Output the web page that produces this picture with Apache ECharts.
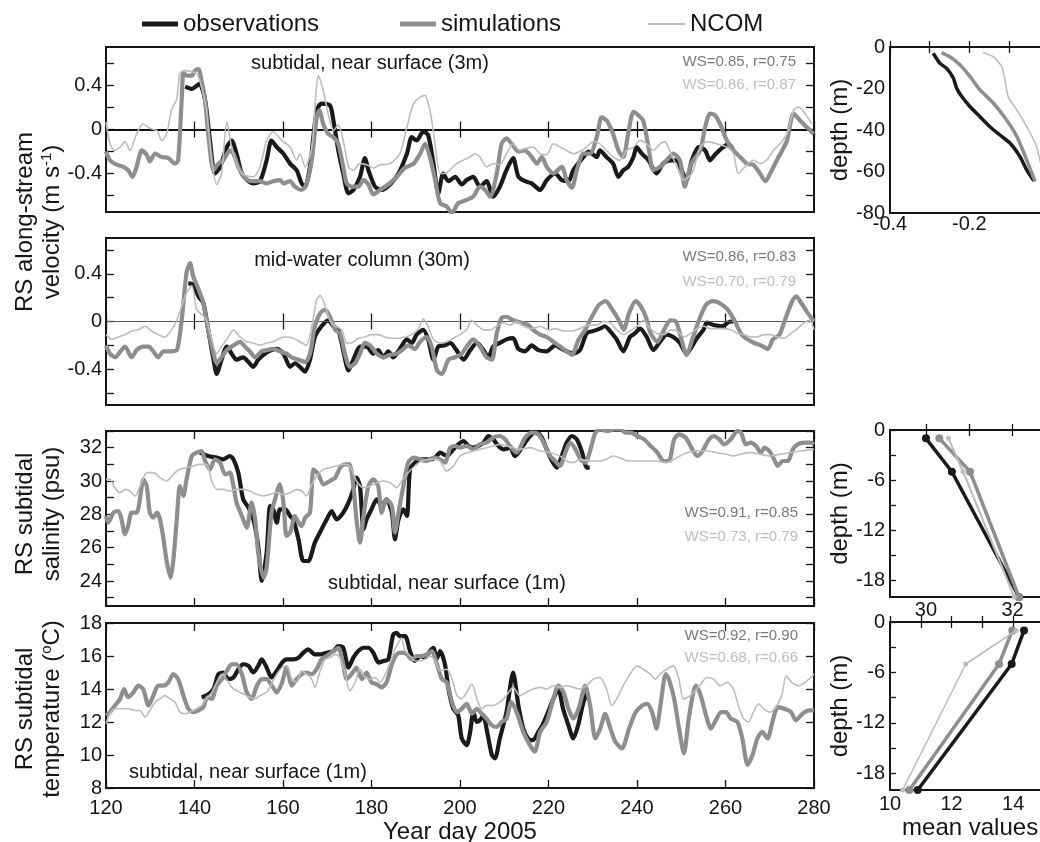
<!DOCTYPE html>
<html><head><meta charset="utf-8">
<script src="https://cdn.jsdelivr.net/npm/echarts@6/dist/echarts.min.js"></script>
<style>html,body{margin:0;padding:0;background:#fff}#c{width:1040px;height:842px}</style>
</head><body><div id="c"></div>
<script>
const FONT = 'Liberation Sans';
const C_OBS = '#1a1a1a', C_SIM = '#8e8e8e', C_NCOM = '#bdbdbd';

// ---------- data: [year day, value] ----------
const velSurfObs = [[137.9,0.39],[139.4,0.37],[141.1,0.415],[142.4,0.265],[143.5,-0.10],[144.6,-0.40],[145.8,-0.34],[147.3,-0.16],[148.4,-0.10],[149.5,-0.22],[150.7,-0.40],[152.2,-0.47],[153.3,-0.49],[154.8,-0.47],[156.3,-0.28],[157.4,-0.10],[158.6,-0.16],[160.1,-0.22],[161.6,-0.31],[163.1,-0.37],[164.2,-0.49],[165.0,-0.52],[166.1,-0.34],[167.6,0.17],[168.7,0.235],[170.6,0.22],[171.4,0.08],[172.5,-0.19],[173.6,-0.40],[174.8,-0.58],[175.9,-0.55],[177.4,-0.43],[178.5,-0.26],[179.3,-0.37],[180.8,-0.52],[182.3,-0.55],[184.2,-0.50],[186.1,-0.40],[188.0,-0.22],[189.1,-0.07],[190.2,-0.10],[191.7,-0.02],[192.8,-0.05],[194.0,-0.31],[195.1,-0.58],[196.2,-0.40],[197.4,-0.47],[198.9,-0.43],[200.4,-0.50],[201.5,-0.46],[203.0,-0.43],[204.5,-0.52],[206.0,-0.47],[207.5,-0.61],[209.0,-0.52],[210.5,-0.37],[212.0,-0.26],[213.2,-0.43],[214.7,-0.47],[216.2,-0.49],[218.1,-0.55],[219.6,-0.46],[221.5,-0.40],[223.0,-0.46],[224.5,-0.47],[225.6,-0.37],[227.9,-0.25],[229.0,-0.20],[230.9,-0.25],[231.6,-0.19],[233.1,-0.25],[234.6,-0.31],[235.8,-0.43],[236.9,-0.37],[238.0,-0.34],[239.2,-0.25],[239.9,-0.16],[241.1,-0.22],[242.6,-0.28],[244.4,-0.40],[245.9,-0.31],[247.5,-0.28],[249.0,-0.28],[250.1,-0.37],[251.2,-0.46],[252.4,-0.28],[253.9,-0.16],[255.4,-0.19],[256.5,-0.28],[257.6,-0.23],[259.2,-0.17],[260.7,-0.13],[261.8,-0.19]];
const velSurfSim = [[120,-0.20],[120.9,-0.28],[122.4,-0.32],[123.9,-0.34],[125.0,-0.37],[126.0,-0.43],[126.9,-0.34],[128.1,-0.19],[129.2,-0.23],[129.9,-0.29],[131.1,-0.22],[132.6,-0.25],[134.1,-0.26],[135.6,-0.31],[136.3,-0.28],[137.1,0.265],[137.5,0.52],[138.2,0.49],[139.4,0.49],[140.1,0.535],[140.9,0.55],[141.6,0.445],[142.4,0.265],[143.1,-0.04],[144.3,-0.37],[145.4,-0.31],[146.5,-0.28],[148.0,-0.19],[148.8,-0.22],[149.9,-0.34],[151.4,-0.44],[152.9,-0.47],[154.8,-0.47],[156.3,-0.49],[157.8,-0.47],[159.3,-0.46],[160.1,-0.49],[161.6,-0.47],[162.7,-0.52],[164.2,-0.55],[165.3,-0.50],[166.5,-0.28],[167.6,0.11],[168.2,0.175],[169.1,0.05],[170.2,-0.04],[171.4,-0.07],[172.5,-0.13],[173.6,-0.34],[174.4,-0.49],[175.5,-0.52],[177.0,-0.52],[178.2,-0.46],[179.3,-0.50],[180.4,-0.59],[181.9,-0.55],[183.8,-0.50],[185.7,-0.43],[187.5,-0.35],[189.5,-0.31],[191.0,-0.22],[192.1,-0.13],[193.2,-0.25],[194.4,-0.46],[195.5,-0.67],[197.0,-0.70],[198.1,-0.76],[199.6,-0.67],[201.5,-0.64],[203.0,-0.61],[204.5,-0.52],[205.7,-0.55],[206.8,-0.61],[208.3,-0.40],[209.4,-0.13],[210.5,-0.08],[211.7,-0.13],[213.2,-0.20],[214.7,-0.19],[216.2,-0.25],[217.4,-0.31],[218.5,-0.25],[219.6,-0.34],[221.1,-0.40],[223.0,-0.34],[224.1,-0.46],[225.3,-0.53],[226.4,-0.37],[227.9,-0.22],[229.4,-0.22],[230.9,-0.07],[232.0,0.11],[233.2,0.08],[234.6,-0.04],[235.8,-0.19],[236.9,-0.25],[238.0,-0.04],[239.2,0.16],[240.3,0.13],[241.4,0.08],[242.6,-0.16],[243.7,-0.37],[245.2,-0.34],[246.7,-0.28],[248.2,-0.22],[249.7,-0.28],[250.8,-0.52],[252.0,-0.34],[252.7,-0.28],[254.3,-0.19],[255.4,0.02],[256.5,0.145],[257.6,0.13],[258.8,0.05],[260.3,-0.10],[261.8,-0.19],[263.3,-0.25],[264.8,-0.31],[266.3,-0.32],[267.8,-0.40],[269.0,-0.47],[270.1,-0.40],[271.6,-0.28],[272.7,-0.20],[273.9,-0.10],[275.4,0.145],[276.9,0.08],[278.4,0.02],[279.9,-0.04]];
const velSurfNcom = [[120,0.07],[120.9,-0.13],[122.0,-0.19],[123.2,-0.16],[124.3,-0.11],[125.4,-0.19],[126.9,-0.04],[128.4,0.05],[129.9,0.01],[131.5,-0.01],[132.6,-0.10],[133.7,-0.04],[134.8,0.175],[136.0,0.28],[136.7,0.51],[137.9,0.535],[140.5,0.505],[141.6,0.385],[142.7,0.175],[143.9,-0.28],[145.0,-0.50],[146.1,-0.40],[147.3,0.07],[148.4,-0.16],[149.5,-0.31],[151.0,-0.41],[153.3,-0.43],[154.8,-0.34],[156.3,-0.10],[157.8,-0.02],[159.7,-0.10],[161.6,-0.16],[163.1,-0.28],[163.8,-0.22],[165.0,-0.34],[166.5,-0.16],[168.0,0.49],[169.1,0.355],[170.2,0.145],[171.4,-0.01],[172.5,0.04],[173.6,-0.10],[174.8,-0.34],[175.9,-0.37],[177.4,-0.31],[178.9,-0.32],[180.4,-0.35],[181.9,-0.32],[184.2,-0.31],[186.4,-0.22],[188.0,0.02],[189.5,0.235],[191.0,0.295],[192.1,0.31],[193.2,0.175],[194.0,-0.02],[195.5,-0.40],[196.6,-0.40],[197.7,-0.37],[199.2,-0.31],[200.7,-0.28],[202.2,-0.25],[203.4,-0.22],[204.5,-0.25],[206.0,-0.34],[207.5,-0.31],[209.0,-0.32],[210.5,-0.22],[212.0,-0.13],[213.5,-0.19],[215.0,-0.17],[216.5,-0.16],[218.1,-0.22],[219.6,-0.23],[221.1,-0.13],[222.6,-0.16],[224.1,-0.19],[225.6,-0.22],[227.1,-0.20],[228.6,-0.16],[230.1,-0.11],[231.6,-0.13],[233.1,-0.19],[234.6,-0.25],[236.1,-0.28],[237.7,-0.19],[239.2,-0.16],[240.7,-0.10],[242.2,-0.13],[243.7,-0.19],[245.2,-0.13],[246.3,-0.11],[247.5,-0.20],[249.0,-0.34],[250.5,-0.46],[252.4,-0.40],[254.3,-0.16],[255.8,-0.11],[258.0,-0.13],[260.3,-0.16],[261.8,-0.22],[262.9,-0.40],[264.4,-0.34],[266.3,-0.28],[267.8,-0.31],[269.3,-0.28],[270.8,-0.19],[272.3,-0.13],[273.9,-0.04],[275.4,0.175],[276.5,0.205],[278.0,0.145],[279.5,0.05]];

const velMidObs = [[138.6,0.32],[139.7,0.31],[140.9,0.21],[142.0,0.155],[143.1,-0.07],[144.3,-0.32],[145.0,-0.44],[146.1,-0.32],[147.3,-0.21],[148.4,-0.27],[149.5,-0.32],[151.0,-0.30],[152.2,-0.34],[153.3,-0.38],[154.4,-0.32],[155.9,-0.27],[157.4,-0.24],[158.6,-0.23],[160.1,-0.27],[161.6,-0.38],[162.7,-0.35],[163.8,-0.38],[165.0,-0.42],[166.1,-0.32],[167.2,-0.13],[168.7,-0.04],[170.2,0.01],[171.4,-0.04],[172.5,-0.07],[173.6,-0.24],[174.8,-0.41],[175.9,-0.32],[177.4,-0.21],[178.9,-0.21],[180.4,-0.27],[181.5,-0.24],[182.7,-0.30],[183.8,-0.25],[184.9,-0.30],[186.4,-0.23],[188.0,-0.15],[189.1,-0.18],[190.2,-0.11],[191.7,-0.07],[192.8,-0.15],[194.0,-0.32],[195.1,-0.21],[196.6,-0.20],[197.8,-0.18],[199.2,-0.24],[200.8,-0.32],[202.3,-0.24],[203.8,-0.18],[205.3,-0.24],[206.4,-0.30],[207.5,-0.21],[209.0,-0.18],[210.5,-0.15],[212.0,-0.14],[213.2,-0.23],[214.7,-0.25],[216.2,-0.20],[217.7,-0.24],[219.6,-0.25],[221.5,-0.20],[223.0,-0.23],[224.1,-0.25],[225.6,-0.27],[227.1,-0.24],[228.6,-0.10],[230.1,-0.08],[231.6,-0.06],[232.7,-0.04],[233.9,-0.08],[235.4,-0.15],[236.9,-0.25],[238.4,-0.13],[239.5,-0.10],[240.7,-0.06],[242.2,-0.13],[243.7,-0.24],[245.2,-0.17],[246.7,-0.11],[248.2,-0.13],[249.7,-0.18],[251.2,-0.27],[252.4,-0.21],[253.5,-0.14],[255.0,-0.07],[255.8,-0.01],[257.3,-0.03],[259.2,-0.04],[261.1,0.0],[261.8,0.0]];
const velMidSim = [[120,-0.20],[120.9,-0.27],[122.0,-0.30],[123.5,-0.24],[124.3,-0.21],[125.8,-0.30],[126.9,-0.24],[128.4,-0.21],[129.6,-0.21],[130.7,-0.25],[131.8,-0.30],[133.0,-0.25],[134.5,-0.25],[136.0,-0.24],[137.1,0.01],[138.2,0.41],[139.0,0.49],[139.7,0.38],[140.9,0.27],[142.0,0.155],[143.1,-0.07],[144.3,-0.27],[145.0,-0.35],[146.1,-0.30],[147.3,-0.24],[148.8,-0.20],[150.3,-0.17],[151.4,-0.21],[152.5,-0.25],[153.7,-0.30],[155.2,-0.25],[156.3,-0.24],[157.8,-0.23],[159.3,-0.25],[160.8,-0.27],[161.9,-0.30],[163.5,-0.32],[165.0,-0.34],[166.1,-0.27],[167.2,-0.04],[168.4,0.07],[169.5,0.10],[170.6,0.04],[171.8,-0.07],[172.9,-0.10],[174.0,-0.27],[175.1,-0.38],[176.3,-0.35],[177.4,-0.27],[178.5,-0.18],[179.7,-0.20],[181.2,-0.27],[182.7,-0.30],[184.2,-0.28],[185.7,-0.27],[187.2,-0.23],[188.3,-0.20],[189.8,-0.23],[191.0,-0.17],[192.5,-0.13],[193.6,-0.21],[194.8,-0.41],[195.9,-0.44],[197.4,-0.32],[198.9,-0.30],[200.4,-0.27],[201.5,-0.21],[203.0,-0.15],[204.5,-0.21],[206.0,-0.30],[207.2,-0.32],[208.3,-0.10],[209.4,0.03],[210.5,0.04],[212.0,0.01],[213.9,-0.01],[215.4,-0.03],[216.5,-0.07],[218.1,-0.11],[219.6,-0.13],[221.1,-0.17],[222.6,-0.21],[224.1,-0.25],[225.3,-0.28],[226.8,-0.15],[228.3,-0.07],[229.8,0.04],[231.4,0.14],[232.9,0.17],[234.4,0.10],[235.9,0.01],[237.0,-0.07],[238.2,0.07],[239.7,0.17],[240.8,0.13],[242.0,0.04],[243.1,-0.10],[244.6,-0.17],[246.1,-0.07],[247.6,0.01],[248.8,0.0],[249.9,-0.13],[251.2,-0.28],[252.5,-0.15],[254.0,0.01],[255.6,0.14],[257.1,0.17],[258.6,0.155],[260.5,0.10],[262.0,0.01],[263.5,-0.10],[265.0,-0.15],[266.5,-0.18],[268.0,-0.20],[269.6,-0.23],[270.7,-0.15],[272.2,-0.11],[273.7,0.04],[275.2,0.18],[276.0,0.21],[277.1,0.155],[278.6,0.07],[280.0,0.0]];
const velMidNcom = [[120,-0.11],[121.3,-0.15],[122.8,-0.13],[124.3,-0.11],[125.8,-0.08],[127.3,-0.07],[128.8,-0.04],[130.3,-0.08],[131.8,-0.11],[133.3,-0.13],[134.8,-0.07],[136.0,0.01],[137.1,0.13],[138.2,0.24],[139.4,0.30],[140.5,0.10],[141.6,0.06],[142.7,0.01],[143.9,-0.15],[145.0,-0.27],[146.1,-0.21],[147.3,-0.15],[148.8,-0.07],[150.3,-0.13],[151.8,-0.17],[153.3,-0.18],[154.8,-0.20],[156.3,-0.18],[157.8,-0.17],[159.3,-0.14],[160.8,-0.13],[162.3,-0.14],[163.8,-0.17],[165.3,-0.20],[166.5,-0.04],[167.6,0.18],[168.4,0.22],[169.5,0.13],[170.6,0.01],[171.8,-0.04],[173.3,-0.07],[174.4,-0.18],[175.5,-0.18],[177.0,-0.14],[178.5,-0.13],[180.0,-0.11],[181.5,-0.11],[183.0,-0.13],[184.5,-0.14],[186.1,-0.14],[187.6,-0.13],[189.1,-0.11],[190.6,-0.06],[191.7,0.02],[192.8,-0.04],[194.0,-0.15],[195.5,-0.18],[197.0,-0.17],[198.5,-0.14],[200.0,-0.11],[201.5,-0.07],[202.6,0.01],[203.8,-0.03],[205.3,-0.07],[206.8,-0.07],[208.3,-0.04],[209.8,-0.01],[211.3,-0.03],[212.8,0.0],[214.3,-0.04],[216.2,-0.06],[218.1,-0.04],[220.0,-0.07],[221.5,-0.06],[223.4,-0.08],[225.3,-0.08],[227.1,-0.06],[229.0,-0.03],[230.9,-0.03],[232.4,0.0],[233.9,-0.01],[235.4,-0.07],[236.9,-0.11],[238.4,-0.08],[240.0,-0.04],[241.4,0.01],[243.0,-0.06],[244.5,-0.10],[246.1,-0.11],[247.6,-0.07],[249.1,-0.08],[250.6,-0.13],[252.1,-0.10],[253.6,-0.06],[255.1,-0.04],[256.6,-0.06],[258.2,-0.06],[259.7,-0.06],[261.2,-0.07],[262.7,-0.10],[264.2,-0.11],[265.7,-0.13],[267.2,-0.13],[268.7,-0.11],[270.3,-0.11],[271.8,-0.13],[273.3,-0.14],[274.8,-0.10],[276.3,-0.06],[277.8,-0.01],[279.0,0.01],[280.0,-0.07]];

const salObs = [[141.2,31.7],[143.1,31.5],[145.0,31.4],[146.5,31.3],[148.0,31.5],[148.8,31.3],[149.9,30.5],[151.0,28.9],[152.2,28.4],[153.3,27.7],[154.4,26.1],[155.2,24.0],[156.3,25.7],[157.1,28.5],[157.8,28.3],[158.6,27.5],[159.3,28.3],[160.5,28.3],[161.6,27.9],[162.3,27.7],[163.5,26.5],[164.6,25.2],[165.7,25.2],[167.2,26.3],[168.7,27.1],[169.9,27.7],[171.0,28.2],[172.1,27.7],[173.6,28.1],[174.8,28.7],[175.9,29.5],[176.6,30.2],[177.4,29.7],[178.2,27.1],[178.9,27.7],[180.0,28.3],[181.2,28.9],[182.3,28.5],[183.4,28.9],[184.6,28.1],[185.3,26.5],[186.1,27.7],[187.2,28.3],[188.0,27.9],[188.7,30.7],[189.8,31.1],[191.0,31.3],[192.1,31.3],[193.2,31.3],[194.4,31.4],[195.5,31.7],[197.0,31.5],[198.5,31.9],[199.6,32.2],[200.8,32.4],[201.9,32.1],[203.0,32.0],[204.1,32.1],[205.3,32.3],[206.4,32.7],[207.5,32.5],[208.7,32.1],[209.8,31.9],[211.3,32.0],[212.4,31.5],[213.2,31.7],[214.7,32.3],[216.2,32.8],[217.4,32.9],[218.5,32.6],[219.6,31.9],[220.8,31.2],[221.9,30.8],[223.0,31.5],[224.1,32.3],[225.3,32.7],[226.4,32.5],[227.5,31.8],[228.7,30.8],[229.3,30.8]];
const salSim = [[120,27.9],[120.5,27.5],[121.7,28.1],[122.8,28.2],[123.5,27.7],[124.3,26.8],[125.0,27.3],[125.8,28.1],[126.9,28.1],[128.1,29.7],[128.4,30.1],[129.2,29.7],[129.9,28.1],[130.7,27.8],[131.5,28.1],[132.2,27.7],[133.0,26.5],[133.7,25.2],[134.6,24.2],[135.2,25.2],[136.0,27.7],[136.7,29.7],[137.5,29.1],[138.2,30.1],[139.4,31.5],[140.5,31.7],[141.6,31.8],[142.4,31.2],[143.5,30.7],[144.6,31.3],[145.8,31.1],[146.9,30.4],[148.0,30.5],[148.8,29.7],[149.5,28.7],[150.7,27.9],[151.8,27.2],[152.9,28.7],[153.7,27.7],[154.4,25.7],[155.6,24.2],[156.3,24.8],[157.4,28.1],[158.2,28.9],[159.3,29.8],[160.1,28.7],[160.8,26.7],[161.6,26.9],[162.7,27.9],[163.5,27.5],[164.2,27.3],[165.0,27.8],[166.1,28.1],[166.9,30.7],[168.0,30.4],[169.1,29.8],[170.6,30.0],[171.8,30.2],[172.9,30.8],[174.0,31.0],[175.0,31.0],[175.9,29.7],[176.6,27.7],[177.4,26.3],[178.2,27.9],[179.3,29.7],[180.4,30.1],[181.5,29.7],[182.3,28.1],[183.4,28.9],[184.6,28.5],[185.3,26.9],[186.1,28.1],[187.2,29.7],[188.3,31.1],[189.5,31.4],[191.0,31.3],[192.5,31.2],[194.0,31.4],[195.5,31.3],[196.6,31.1],[197.8,32.0],[198.9,32.1],[200.0,32.0],[201.5,32.1],[203.0,31.9],[204.5,32.2],[206.0,32.3],[207.5,32.6],[209.0,32.7],[210.2,32.5],[211.3,32.1],[212.8,31.7],[214.7,32.6],[216.2,32.9],[217.7,32.8],[218.9,32.3],[220.4,31.5],[221.5,31.2],[222.6,30.9],[223.8,31.7],[224.9,32.3],[226.1,31.9],[227.2,31.3],[228.3,31.1],[229.5,31.9],[230.6,32.9],[231.8,33.1],[233.3,33.0],[234.8,33.1],[236.3,33.1],[237.4,32.9],[238.6,32.9],[240.1,32.7],[241.6,32.5],[243.1,32.1],[244.6,31.7],[246.1,31.2],[247.2,31.2],[248.4,32.5],[249.5,32.8],[251.0,32.6],[252.5,31.9],[253.6,31.5],[254.8,31.8],[256.3,32.5],[257.4,32.7],[258.6,32.5],[259.7,32.2],[261.2,32.5],[262.7,33.0],[263.5,32.9],[264.6,32.2],[265.7,32.3],[266.9,32.1],[268.0,31.7],[268.8,32.0],[269.9,31.8],[271.0,31.3],[271.8,30.9],[272.9,31.2],[274.1,31.2],[275.2,31.9],[276.3,32.2],[277.8,32.3],[279.3,32.3],[280.0,32.2]];
const salNcom = [[120,30.1],[120.9,30.1],[122.0,29.6],[123.2,29.3],[124.3,29.5],[125.4,29.4],[126.6,29.1],[127.7,29.7],[129.2,30.5],[130.7,30.5],[132.2,30.2],[133.7,30.0],[135.2,30.4],[136.7,30.7],[138.2,30.8],[139.7,30.9],[141.2,31.0],[142.7,31.0],[143.9,30.0],[145.0,29.5],[146.5,29.5],[148.0,29.4],[149.5,29.5],[151.0,29.5],[152.5,29.4],[154.0,29.2],[155.6,29.1],[157.1,29.2],[158.6,29.3],[160.1,29.2],[161.6,29.3],[163.1,29.5],[164.2,29.4],[165.3,29.1],[166.5,29.8],[167.6,30.3],[169.1,30.7],[170.6,30.8],[172.1,30.9],[173.6,31.0],[175.1,30.9],[176.6,30.0],[178.2,29.6],[179.7,29.7],[181.2,29.9],[182.7,30.0],[184.2,29.9],[185.7,29.6],[186.8,30.0],[188.3,30.5],[189.8,30.9],[191.3,31.2],[192.8,31.3],[194.4,31.3],[195.5,31.2],[197.0,30.6],[198.5,30.9],[200.0,31.5],[201.5,31.7],[203.0,31.8],[204.5,31.9],[206.0,32.0],[207.5,32.1],[209.0,32.2],[210.5,32.1],[212.0,32.0],[213.5,31.9],[215.8,32.0],[218.1,31.8],[220.4,31.7],[222.6,31.5],[224.1,31.2],[225.6,31.1],[227.1,31.3],[229.4,31.2],[231.6,31.2],[233.1,31.3],[234.6,31.5],[236.1,31.4],[238.0,31.2],[239.9,31.2],[242.2,31.2],[244.4,31.2],[246.7,31.1],[249.0,31.4],[251.2,31.7],[253.5,31.8],[255.8,31.8],[258.0,31.7],[260.3,31.6],[261.8,31.5],[263.3,31.6],[265.6,31.7],[267.8,31.6],[270.1,31.5],[272.3,31.6],[274.6,31.7],[276.9,31.8],[280.0,31.9]];

const tempObs = [[141.6,13.5],[142.7,13.6],[144.3,14.0],[145.4,14.9],[146.5,15.0],[147.6,14.6],[148.8,14.7],[149.9,15.2],[151.0,15.5],[152.2,15.4],[153.3,15.0],[154.4,15.4],[155.2,15.8],[156.3,15.3],[157.4,14.7],[158.6,15.1],[159.8,15.6],[160.8,15.8],[162.3,15.8],[163.5,15.9],[164.6,16.2],[165.7,16.4],[167.2,16.1],[168.4,16.1],[169.9,16.2],[171.4,16.3],[172.5,16.6],[173.6,16.5],[174.8,15.3],[175.9,15.9],[177.0,16.3],[178.2,16.5],[179.3,16.5],[180.4,16.2],[181.6,15.6],[182.7,15.7],[183.8,15.8],[184.9,17.3],[185.7,17.4],[186.4,17.2],[187.6,17.2],[188.7,16.3],[189.8,15.7],[191.0,16.0],[192.1,15.9],[193.2,16.3],[194.0,16.5],[194.7,15.8],[195.5,16.3],[196.6,15.5],[197.4,14.0],[198.5,12.8],[199.6,12.4],[200.4,11.0],[201.5,10.6],[202.3,11.4],[203.0,12.6],[203.8,12.0],[204.5,12.1],[205.3,12.4],[206.0,11.6],[207.2,10.0],[207.9,9.8],[209.0,11.0],[210.5,12.6],[212.0,15.0],[213.2,13.0],[214.3,11.6],[215.4,11.0],[216.5,10.9],[217.7,11.4],[218.8,11.9],[219.9,12.6],[221.1,13.4],[222.2,14.0],[223.3,12.8],[224.5,11.8],[225.6,11.0],[226.7,11.8],[227.9,13.2],[228.8,13.8]];
const tempSim = [[120,12.4],[120.9,12.6],[122.0,13.0],[123.2,13.4],[124.1,14.0],[125.0,13.5],[126.2,13.8],[127.3,14.2],[128.4,14.0],[129.6,13.0],[130.7,13.6],[131.8,14.2],[133.0,14.2],[134.1,14.4],[135.2,14.9],[136.3,14.6],[137.5,13.6],[138.6,12.8],[139.7,12.6],[140.9,12.7],[142.0,12.9],[142.9,13.5],[143.9,13.4],[145.0,14.2],[146.2,14.6],[147.3,15.1],[148.4,15.5],[149.5,15.5],[150.7,14.9],[151.8,13.8],[152.9,13.4],[154.1,14.2],[155.2,14.6],[156.3,14.6],[157.5,14.2],[158.6,13.8],[159.8,14.4],[160.8,15.3],[162.0,14.2],[163.1,14.6],[164.2,14.9],[165.3,15.0],[166.5,14.9],[167.6,15.2],[168.7,15.8],[169.9,16.0],[171.4,16.3],[172.5,16.5],[173.6,15.5],[174.4,14.6],[175.5,14.9],[176.6,15.3],[177.8,14.6],[178.9,15.0],[180.0,14.4],[181.1,14.3],[182.3,14.1],[183.4,14.4],[184.6,15.5],[185.7,16.1],[186.8,16.2],[188.0,16.1],[189.1,15.8],[190.2,16.0],[191.4,16.0],[192.5,16.1],[193.6,16.3],[194.8,15.5],[195.9,14.6],[197.0,14.4],[198.2,13.2],[199.3,12.6],[200.4,12.8],[201.5,13.1],[202.7,12.5],[203.8,12.8],[204.9,12.5],[206.0,12.2],[207.2,11.8],[208.3,11.7],[209.4,12.0],[210.5,12.2],[211.6,13.2],[212.8,12.6],[214.3,11.4],[215.8,10.6],[216.9,10.2],[218.1,11.4],[219.6,12.0],[221.1,13.4],[222.2,14.2],[223.4,13.8],[224.5,12.8],[225.6,12.2],[226.8,12.8],[228.3,14.2],[229.4,13.0],[230.6,11.0],[231.7,11.6],[232.8,12.5],[234.0,11.6],[235.1,10.8],[236.6,10.4],[238.2,11.6],[239.7,12.6],[241.2,13.0],[242.3,13.1],[243.4,12.6],[244.4,11.6],[245.3,13.0],[246.5,14.9],[247.2,14.6],[248.4,13.4],[249.5,11.6],[250.6,10.1],[251.8,12.4],[253.3,14.2],[254.4,13.6],[255.6,12.4],[256.7,11.6],[257.8,12.1],[259.0,12.6],[260.1,12.6],[261.2,12.2],[262.7,12.0],[263.8,11.0],[265.0,9.4],[266.1,10.0],[267.2,11.0],[268.3,11.4],[269.5,11.0],[270.6,12.0],[271.8,12.9],[273.3,12.8],[274.8,12.6],[275.9,12.1],[277.4,12.5],[278.9,12.7],[280.0,12.7]];
const tempNcom = [[120,11.9],[120.9,12.5],[122.0,12.8],[123.5,12.8],[125.0,12.8],[126.6,12.7],[127.7,12.7],[128.8,12.3],[129.9,12.7],[131.1,13.2],[132.2,13.4],[133.3,13.6],[134.5,13.4],[135.6,13.2],[136.7,12.6],[137.9,12.5],[139.0,12.6],[140.5,12.8],[141.6,13.0],[142.7,13.4],[143.9,13.8],[145.0,14.4],[146.2,14.9],[147.3,14.6],[148.4,14.1],[149.5,13.9],[151.0,13.7],[152.5,13.5],[153.7,13.4],[154.8,13.6],[156.3,13.8],[157.4,14.3],[158.6,14.9],[159.8,15.3],[160.8,15.4],[162.0,14.6],[163.1,14.4],[164.2,15.1],[165.3,14.9],[166.5,14.6],[167.2,14.1],[168.4,15.1],[169.5,15.8],[170.6,15.9],[171.8,16.1],[172.9,15.9],[174.0,15.0],[175.1,13.9],[176.3,14.4],[177.4,15.2],[178.5,14.7],[179.7,14.6],[180.8,14.7],[182.0,14.4],[183.1,14.9],[184.2,15.6],[185.4,16.5],[186.1,16.8],[186.8,17.1],[187.6,16.3],[188.7,16.0],[189.8,15.7],[191.0,15.7],[192.1,15.8],[193.2,16.0],[194.4,15.7],[195.5,15.1],[197.0,15.2],[198.2,14.6],[199.3,13.6],[200.4,13.4],[201.5,13.8],[202.7,14.3],[203.8,13.4],[204.9,12.8],[206.0,13.0],[207.5,13.0],[209.0,13.2],[210.5,13.6],[212.0,14.1],[213.5,13.6],[215.0,13.8],[216.5,14.0],[218.1,14.1],[219.6,14.0],[221.1,14.2],[222.6,14.1],[224.1,14.2],[225.6,14.1],[227.1,14.0],[228.6,14.2],[230.1,14.6],[231.6,14.7],[233.1,14.0],[234.3,13.0],[235.4,13.4],[236.9,14.2],[238.4,14.9],[240.0,15.4],[241.4,15.2],[243.0,14.9],[244.1,14.6],[245.2,14.9],[246.7,15.2],[248.2,15.4],[249.4,14.7],[250.5,13.4],[252.0,13.6],[253.5,14.0],[254.7,14.4],[255.8,14.7],[257.3,14.6],[258.8,14.2],[260.3,14.4],[261.8,14.0],[262.9,13.0],[264.1,12.2],[265.2,12.0],[266.3,12.6],[267.5,13.1],[268.6,12.8],[270.1,12.6],[271.6,13.0],[272.8,13.7],[273.7,14.8],[275.0,14.4],[276.5,14.2],[278.0,14.4],[280.0,14.9]];

// profiles: [mean value, depth]
const profVelObs = [[-0.291,-3.0],[-0.274,-7.9],[-0.257,-10.3],[-0.240,-15.1],[-0.232,-19.9],[-0.219,-23.9],[-0.198,-28.8],[-0.173,-33.6],[-0.148,-38.4],[-0.123,-42.4],[-0.097,-46.4],[-0.072,-52.9],[-0.055,-59.3],[-0.037,-64.5]];
const profVelSim = [[-0.270,-2.7],[-0.249,-4.7],[-0.223,-8.7],[-0.198,-14.3],[-0.173,-20.7],[-0.139,-27.1],[-0.106,-35.2],[-0.080,-43.2],[-0.055,-54.5],[-0.034,-64.9]];
const profVelNcom = [[-0.165,-2.6],[-0.139,-4.7],[-0.118,-9.5],[-0.110,-15.9],[-0.102,-23.9],[-0.080,-30.4],[-0.055,-38.4],[-0.030,-48.0],[-0.022,-54.5],[-0.010,-62.0],[0.0,-66.0]];
const profSalObs = [[30.0,-1],[30.6,-5],[32.15,-20]];
const profSalSim = [[30.31,-1],[31.02,-5],[32.15,-20]];
const profSalNcom = [[30.52,-1],[30.86,-5],[32.04,-20]];
const profTempObs = [[14.35,-1],[13.95,-5],[10.9,-20]];
const profTempSim = [[13.97,-1],[13.54,-5],[10.63,-20]];
const profTempNcom = [[14.1,-1],[12.46,-5],[10.41,-20]];

// tick values
const dayTicks = [120,140,160,180,200,220,240,260,280];
const velTicks1 = [-0.6,-0.4,-0.2,0,0.2,0.4,0.6];
const velLabels = [-0.4,0,0.4];
const salTicks = [23,24,25,26,27,28,29,30,31,32,33];
const salLabels = [24,26,28,30,32];
const tempTicks = [8,10,12,14,16,18];
const depthVelTicks = [0,-10,-20,-30,-40,-50,-60,-70,-80];
const depthVelLabels = [0,-20,-40,-60,-80];
const depthTicks = [0,-3,-6,-9,-12,-15,-18];
const depthLabels = [0,-6,-12,-18];
const profVelXTicks = [-0.4,-0.3,-0.2,-0.1,0];
const profVelXLabels = [-0.4,-0.2,0];
const profSalXTicks = [30,31,32];
const profSalXLabels = [30,32];
const profTempXTicks = [10,11,12,13,14,15];
const profTempXLabels = [10,12,14];

// ---------- layout ----------
const grids = [
  {left:106, top:47, width:708, height:165},
  {left:106, top:238, width:708, height:167},
  {left:106, top:431, width:708, height:175},
  {left:106, top:623, width:708, height:165},
  {left:890, top:47, width:158.6, height:166},
  {left:890, top:430, width:165.8, height:167},
  {left:890, top:622, width:160.2, height:168}
].map(g => Object.assign({show:true, borderColor:'#161616', borderWidth:2, backgroundColor:'transparent',
  containLabel:false, outerBoundsMode:'none'}, g));

const xAxes = [], yAxes = [];
const tickStyle = {color:'#161616', width:1.3};
function addX(gi, min, max, ticks, labels, opts) {
  opts = opts || {};
  const base = {type:'value', gridIndex:gi, min, max, axisLine:{show:false}, splitLine:{show:false},
    axisTick:{show:true, inside:true, length:opts.tl||8, lineStyle:tickStyle, customValues:ticks}};
  xAxes.push(Object.assign({}, base, {position:'bottom',
    axisLabel: labels ? {show:true, customValues:labels, fontSize:20, fontFamily:FONT, color:'#161616', margin:opts.margin||8,
      showMinLabel:true, showMaxLabel:true, hideOverlap:false} : {show:false},
    name: opts.name || '', nameLocation:'middle', nameGap: opts.nameGap || 30,
    nameTextStyle:{fontSize:24, fontFamily:FONT, color:'#161616'}}));
  xAxes.push(Object.assign({}, base, {position:'top', axisLabel:{show:false}}));
}
function addY(gi, min, max, ticks, labels, opts) {
  opts = opts || {};
  const base = {type:'value', gridIndex:gi, min, max, axisLine:{show:false}, splitLine:{show:false},
    axisTick:{show:true, inside:true, length:opts.tl||8, lineStyle:tickStyle, customValues:ticks}};
  yAxes.push(Object.assign({}, base, {position:'left',
    axisLabel:{show:true, customValues:labels, fontSize:20, fontFamily:FONT, color:'#161616', margin:opts.margin||4,
      showMinLabel:true, showMaxLabel:true, hideOverlap:false},
    name: opts.name || '', nameLocation:'middle', nameGap: opts.nameGap || 36,
    nameTextStyle:{fontSize:24, fontFamily:FONT, color:'#161616'}}));
  yAxes.push(Object.assign({}, base, {position:'right', axisLabel:{show:false}}));
}
addX(0,120,280,dayTicks,null); addY(0,-0.75,0.75,velTicks1,velLabels);
addX(1,120,280,dayTicks,null); addY(1,-0.7,0.7,velTicks1,velLabels);
addX(2,120,280,dayTicks,null); addY(2,22.5,33,salTicks,salLabels);
addX(3,120,280,dayTicks,dayTicks,{name:'Year day 2005', nameGap:32, margin:10}); addY(3,8,18,tempTicks,tempTicks);
addX(4,-0.4,0,profVelXTicks,profVelXLabels,{tl:6, margin:1}); addY(4,-80,0,depthVelTicks,depthVelLabels,{tl:6, margin:5, name:'depth (m)', nameGap:38});
addX(5,29.17,33,profSalXTicks,profSalXLabels,{tl:6, margin:3}); addY(5,-20,0,depthTicks,depthLabels,{tl:6, margin:5, name:'depth (m)', nameGap:38});
addX(6,10,15.2,profTempXTicks,profTempXLabels,{tl:6, margin:4, name:'mean values', nameGap:26}); addY(6,-20,0,depthTicks,depthLabels,{tl:6, margin:5, name:'depth (m)', nameGap:38});

const styles = {
  observations:{color:C_OBS, width:4.2, z:4, sym:8},
  simulations:{color:C_SIM, width:4.2, z:5, sym:8},
  NCOM:{color:C_NCOM, width:1.6, z:6, sym:5}
};
function ser(name, data, gi, opts) {
  opts = opts || {};
  const s = styles[name];
  const o = {type:'line', name, data, xAxisIndex:gi*2, yAxisIndex:gi*2, animation:false,
    smooth: opts.smooth === undefined ? 0.25 : opts.smooth,
    showSymbol: !!opts.markers, symbol: opts.markers ? 'circle' : 'none', symbolSize: s.sym,
    lineStyle:{color:s.color, width: opts.width || s.width}, itemStyle:{color:s.color}, z:s.z, clip:true,
    emphasis:{disabled:true}};
  if (opts.zero) o.markLine = {silent:true, symbol:'none', label:{show:false}, animation:false,
    lineStyle:{color:opts.zero.color, width:opts.zero.width, type:'solid'}, data:[{yAxis:0}]};
  return o;
}
const series = [
  ser('observations', velSurfObs, 0, {zero:{color:'#111', width:2}}),
  ser('simulations', velSurfSim, 0),
  ser('NCOM', velSurfNcom, 0),
  ser('observations', velMidObs, 1, {zero:{color:'#555', width:1.2}}),
  ser('simulations', velMidSim, 1),
  ser('NCOM', velMidNcom, 1),
  ser('observations', salObs, 2),
  ser('simulations', salSim, 2),
  ser('NCOM', salNcom, 2),
  ser('observations', tempObs, 3),
  ser('simulations', tempSim, 3),
  ser('NCOM', tempNcom, 3),
  ser('observations', profVelObs, 4, {smooth:0.2, width:3.5}),
  ser('simulations', profVelSim, 4, {smooth:0.2, width:3.5}),
  ser('NCOM', profVelNcom, 4, {smooth:0.2, width:1.6}),
  ser('observations', profSalObs, 5, {smooth:false, markers:true, width:3.5}),
  ser('simulations', profSalSim, 5, {smooth:false, markers:true, width:3.5}),
  ser('NCOM', profSalNcom, 5, {smooth:false, markers:true, width:2}),
  ser('observations', profTempObs, 6, {smooth:false, markers:true, width:3.5}),
  ser('simulations', profTempSim, 6, {smooth:false, markers:true, width:3.5}),
  ser('NCOM', profTempNcom, 6, {smooth:false, markers:true, width:1.6})
];

const legTxt = {fontSize:24, fontFamily:FONT, color:'#161616'};
const legend = [
  {data:['observations'], left:137, top:7, icon:'rect', itemWidth:36, itemHeight:5, textStyle:legTxt, selectedMode:false},
  {data:['simulations'], left:395, top:7, icon:'rect', itemWidth:36, itemHeight:5, textStyle:legTxt, selectedMode:false},
  {data:['NCOM'], left:643, top:7, icon:'rect', itemWidth:37, itemHeight:2, textStyle:legTxt, selectedMode:false}
];

function txt(x, y, s, size, color, align) {
  return {type:'text', x, y, silent:true, style:{text:s, fontSize:size, fontFamily:FONT, fill:color,
    align: align || 'center', verticalAlign:'middle'}};
}
const WS_D = '#7a7a7a', WS_L = '#bdbdbd';
const ylabRich = {n:{fontSize:24, fontFamily:FONT, fill:'#161616'}, sup:{fontSize:15, fontFamily:FONT, fill:'#161616', verticalAlign:'top', padding:[0,0,10,0]}};
function vlab(x, y, s) {
  return {type:'text', x, y, rotation:Math.PI/2, silent:true,
    style:{text:s, rich:ylabRich, fontSize:24, fontFamily:FONT, fill:'#161616', align:'center', verticalAlign:'middle'}};
}
const graphic = [
  txt(370, 63, 'subtidal, near surface (3m)', 20, '#161616'),
  txt(796, 62, 'WS=0.85, r=0.75', 15, WS_D, 'right'),
  txt(796, 85, 'WS=0.86, r=0.87', 15, WS_L, 'right'),
  txt(362, 260, 'mid-water column (30m)', 20, '#161616'),
  txt(796, 257, 'WS=0.86, r=0.83', 15, WS_D, 'right'),
  txt(796, 282, 'WS=0.70, r=0.79', 15, WS_L, 'right'),
  txt(798, 513, 'WS=0.91, r=0.85', 15, WS_D, 'right'),
  txt(798, 537, 'WS=0.73, r=0.79', 15, WS_L, 'right'),
  txt(447, 583, 'subtidal, near surface (1m)', 20, '#161616'),
  txt(798, 636, 'WS=0.92, r=0.90', 15, WS_D, 'right'),
  txt(798, 658, 'WS=0.68, r=0.66', 15, WS_L, 'right'),
  txt(248, 772, 'subtidal, near surface (1m)', 20, '#161616'),
  vlab(25, 222, '{n|RS along-stream}'),
  vlab(52, 222, '{n|velocity (m s}{sup|-1}{n|)}'),
  vlab(25, 514, '{n|RS subtidal}'),
  vlab(52, 514, '{n|salinity (psu)}'),
  vlab(25, 709, '{n|RS subtidal}'),
  vlab(52, 709, '{n|temperature (}{sup|o}{n|C)}')
];

const chart = echarts.init(document.getElementById('c'), null, {renderer:'canvas'});
chart.setOption({animation:false, backgroundColor:'#fff', grid:grids, xAxis:xAxes, yAxis:yAxes, series, legend, graphic});
</script>
</body></html>
